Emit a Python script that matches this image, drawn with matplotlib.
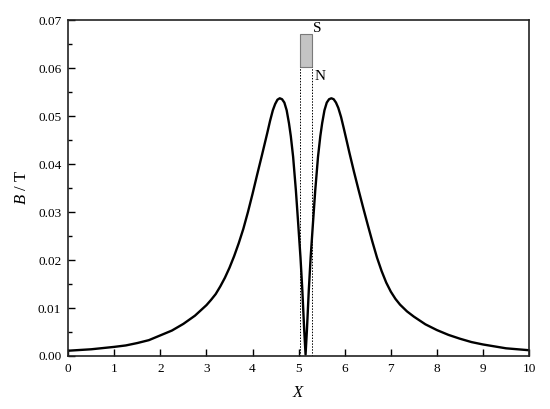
import numpy as np
import matplotlib
matplotlib.use('Agg')
import matplotlib.pyplot as plt
from matplotlib.patches import Rectangle

# field curve
x_pos = [0.0, 0.5, 1.0, 1.25, 1.5, 1.75, 2.0, 2.25, 2.5, 2.75, 3.0, 3.1, 3.2, 3.3,
         3.4, 3.5, 3.6, 3.7, 3.8, 3.9, 4.0, 4.1, 4.2, 4.25, 4.32, 4.38, 4.44,
         4.49, 4.54, 4.59, 4.64, 4.69, 4.74, 4.79, 4.83, 4.88, 4.94, 4.99,
         5.04, 5.08, 5.12, 5.15,
         5.18, 5.22, 5.26, 5.31, 5.36, 5.42, 5.47, 5.51, 5.56, 5.61, 5.66,
         5.71, 5.76, 5.81, 5.86, 5.92, 5.98, 6.05, 6.1, 6.2, 6.3, 6.4,
         6.5, 6.6, 6.7, 6.8, 6.9, 7.0, 7.1, 7.2, 7.35, 7.5, 7.75, 8.0, 8.25,
         8.5, 8.75, 9.0, 9.5, 10.0]
b_val = [0.0011, 0.0014, 0.0019, 0.0022, 0.0027, 0.0033, 0.0043, 0.0053, 0.0067,
         0.0084, 0.0106, 0.0117, 0.0129, 0.0145, 0.0163, 0.0184, 0.0208, 0.0235,
         0.0265, 0.0300, 0.0338, 0.0378, 0.0417, 0.0437, 0.0465, 0.0490, 0.0512,
         0.0525, 0.0534, 0.0537, 0.0535, 0.0528, 0.0512, 0.0485, 0.0458, 0.0415,
         0.0345, 0.0276, 0.0205, 0.0137, 0.0055, 0.0003,
         0.0055, 0.0137, 0.0205, 0.0276, 0.0345, 0.0415, 0.0458, 0.0485, 0.0512,
         0.0528, 0.0535, 0.0537, 0.0535, 0.0528, 0.0517, 0.0498, 0.0474, 0.0445,
         0.0424, 0.0384, 0.0346, 0.0309, 0.0273, 0.0238, 0.0205, 0.0177,
         0.0153, 0.0134, 0.0119, 0.0107, 0.0093, 0.0082, 0.0066, 0.0054, 0.0044,
         0.0036, 0.0029, 0.0024, 0.0016, 0.0012]

# magnet sketch (S on top, N at bottom)
magnet_x = [5.02, 5.28]
magnet_y = [0.0603, 0.0670]

x_ticks = list(range(0, 11))
y_ticks = [0.00, 0.01, 0.02, 0.03, 0.04, 0.05, 0.06, 0.07]

plt.rcParams['font.family'] = 'Liberation Serif'
plt.rcParams['mathtext.fontset'] = 'custom'
plt.rcParams['mathtext.rm'] = 'Liberation Serif'
plt.rcParams['mathtext.it'] = 'Liberation Serif:italic'

fig = plt.figure(figsize=(5.5, 4.09), dpi=100)
ax = fig.add_axes([0.124, 0.1296, 0.838, 0.8214])

ax.plot(x_pos, b_val, 'k-', lw=1.7, solid_joinstyle='round')

for xm in magnet_x:
    ax.plot([xm, xm], [0, magnet_y[0]], color='k', ls=(0, (1.5, 1.5)), lw=0.7)
ax.add_patch(Rectangle((magnet_x[0], magnet_y[0]), magnet_x[1] - magnet_x[0],
                       magnet_y[1] - magnet_y[0], facecolor='#c4c4c4',
                       edgecolor='#7a7a7a', lw=0.8))
ax.text(5.32, 0.0683, 'S', fontsize=11, va='center', ha='left')
ax.text(5.35, 0.0582, 'N', fontsize=11, va='center', ha='left')

ax.set_xlim(0, 10)
ax.set_ylim(0, 0.07)
ax.set_xticks(x_ticks)
ax.set_yticks(y_ticks)
ax.set_yticklabels(['%.2f' % v for v in y_ticks])
ax.set_yticks(np.arange(0.005, 0.07, 0.01), minor=True)
ax.tick_params(which='both', direction='in', top=False, right=False,
               labelsize=9.5, width=1.0)
ax.tick_params(which='major', length=5, pad=5)
ax.tick_params(which='minor', length=3)
for sp in ax.spines.values():
    sp.set_linewidth(1.2)
    sp.set_color('#222222')

ax.set_xlabel(r'$X$', fontsize=12, labelpad=7)
ax.set_ylabel(r'$B$ / T', fontsize=12, labelpad=6)

fig.savefig('out.png', dpi=100)
